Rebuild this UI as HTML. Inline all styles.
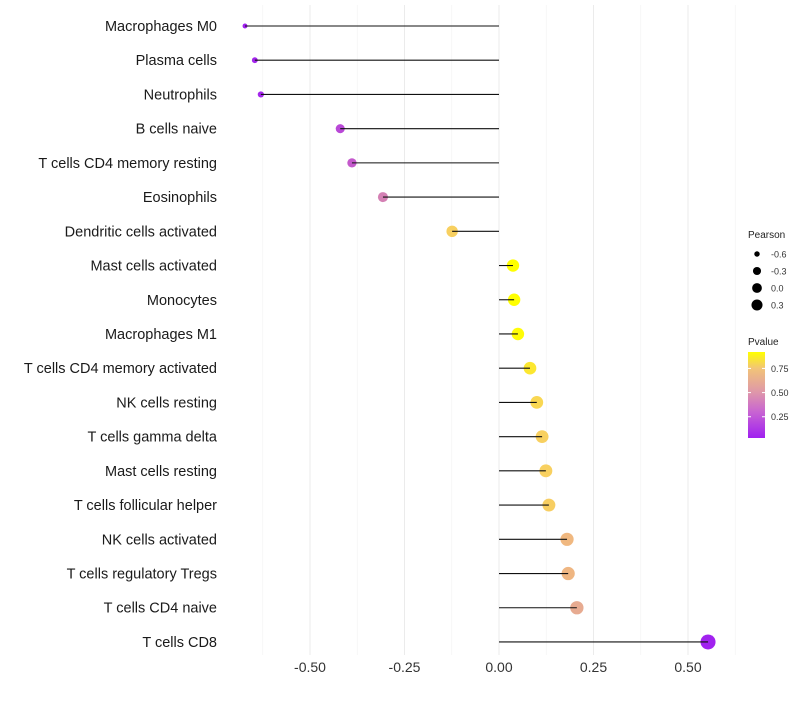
<!DOCTYPE html>
<html><head><meta charset="utf-8"><style>
body{margin:0;background:#fff;font-family:"Liberation Sans",sans-serif}
</style></head><body>
<svg id="chart" width="800" height="700" xmlns="http://www.w3.org/2000/svg" font-family="Liberation Sans, sans-serif"></svg>
<script>
const categories=["Macrophages M0","Plasma cells","Neutrophils","B cells naive","T cells CD4 memory resting","Eosinophils","Dendritic cells activated","Mast cells activated","Monocytes","Macrophages M1","T cells CD4 memory activated","NK cells resting","T cells gamma delta","Mast cells resting","T cells follicular helper","NK cells activated","T cells regulatory  Tregs","T cells CD4 naive","T cells CD8"];
const pearson=[-0.672,-0.646,-0.63,-0.42,-0.389,-0.307,-0.124,0.037,0.04,0.05,0.082,0.1,0.114,0.124,0.132,0.18,0.183,0.206,0.553];
const pvalue=[0.03,0.05,0.06,0.2,0.27,0.4,0.78,0.92,0.92,0.91,0.85,0.8,0.78,0.78,0.77,0.65,0.64,0.57,0.04];
const xTicks=[-0.5,-0.25,0,0.25,0.5];
const xTickLabels=["-0.50","-0.25","0.00","0.25","0.50"];
const sizeLegend=[-0.6,-0.3,0.0,0.3];
const pLegendTicks=[0.25,0.5,0.75];

const svg=document.getElementById('chart');
const NS="http://www.w3.org/2000/svg";
function mk(t,a,p){const e=document.createElementNS(NS,t);for(const k in a)e.setAttribute(k,a[k]);(p||svg).appendChild(e);return e;}
const x=v=>499+v*378;
const y=i=>26+i*34.22;
const r=v=>2+5.5*Math.sqrt(Math.max(0,(v+0.68)/1.23));
const stops=[[0.03,[160,32,240]],[0.3,[200,96,200]],[0.5,[224,160,160]],[0.65,[240,184,128]],[0.78,[248,208,96]],[0.92,[255,255,0]]];
function col(p){if(p<=stops[0][0])return `rgb(${stops[0][1]})`;for(let i=1;i<stops.length;i++){if(p<=stops[i][0]){const a=stops[i-1],b=stops[i],t=(p-a[0])/(b[0]-a[0]);return 'rgb('+a[1].map((c,j)=>Math.round(c+(b[1][j]-c)*t)).join(',')+')';}}return 'rgb(255,255,0)';}

// grid
for(let k=-5;k<=5;k++){const v=k*0.125;const major=(k%2===0);
 const g=mk('line',{x1:x(v),x2:x(v),y1:5,y2:655,stroke:major?'#ebebeb':'#f3f3f3','stroke-width':major?1:0.6});
 }
// ticks
xTicks.forEach((v,i)=>{const t=mk('text',{x:x(v),y:672,'text-anchor':'middle','font-size':14,fill:'#333'});t.textContent=xTickLabels[i];
});
categories.forEach((c,i)=>{
 const t=mk('text',{x:217,y:y(i)+5,'text-anchor':'end','font-size':14.5,fill:'#1a1a1a'});t.textContent=c;
 
 const pt=mk('circle',{cx:x(pearson[i]),cy:y(i),r:r(pearson[i]),fill:col(pvalue[i])});
 
 const l=mk('line',{x1:x(0),x2:x(pearson[i]),y1:y(i),y2:y(i),stroke:'#111','stroke-width':1.1});
 
});
// size legend
let t=mk('text',{x:748,y:238,'font-size':10,fill:'#222'});t.textContent='Pearson';

sizeLegend.forEach((v,i)=>{const cy=254+i*17;
 const c=mk('circle',{cx:757,cy:cy,r:r(v)*0.8,fill:'#000'});
 const tt=mk('text',{x:771,y:cy+3.5,'font-size':9,fill:'#333'});tt.textContent=v.toFixed(1);
 });
// colorbar
t=mk('text',{x:748,y:345,'font-size':10,fill:'#222'});t.textContent='Pvalue';

const defs=mk('defs',{});const lg=mk('linearGradient',{id:'g',x1:0,y1:1,x2:0,y2:0},defs);
[[0.03,[160,32,240]],[0.3,[200,100,210]],[0.5,[222,150,170]],[0.75,[242,196,120]],[0.92,[255,255,0]]].forEach(s=>mk('stop',{offset:(s[0]-0.03)/0.89,'stop-color':`rgb(${s[1]})`},lg));
const cb=mk('rect',{x:748,y:352,width:17,height:86,fill:'url(#g)'});

const py=p=>438-(p-0.03)/0.89*86;
pLegendTicks.forEach(p=>{mk('line',{x1:748,x2:751,y1:py(p),y2:py(p),stroke:'#fff'});mk('line',{x1:762,x2:765,y1:py(p),y2:py(p),stroke:'#fff'});
 const tt=mk('text',{x:771,y:py(p)+3.5,'font-size':9,fill:'#333'});tt.textContent=p.toFixed(2);
 });
</script>
</body></html>
